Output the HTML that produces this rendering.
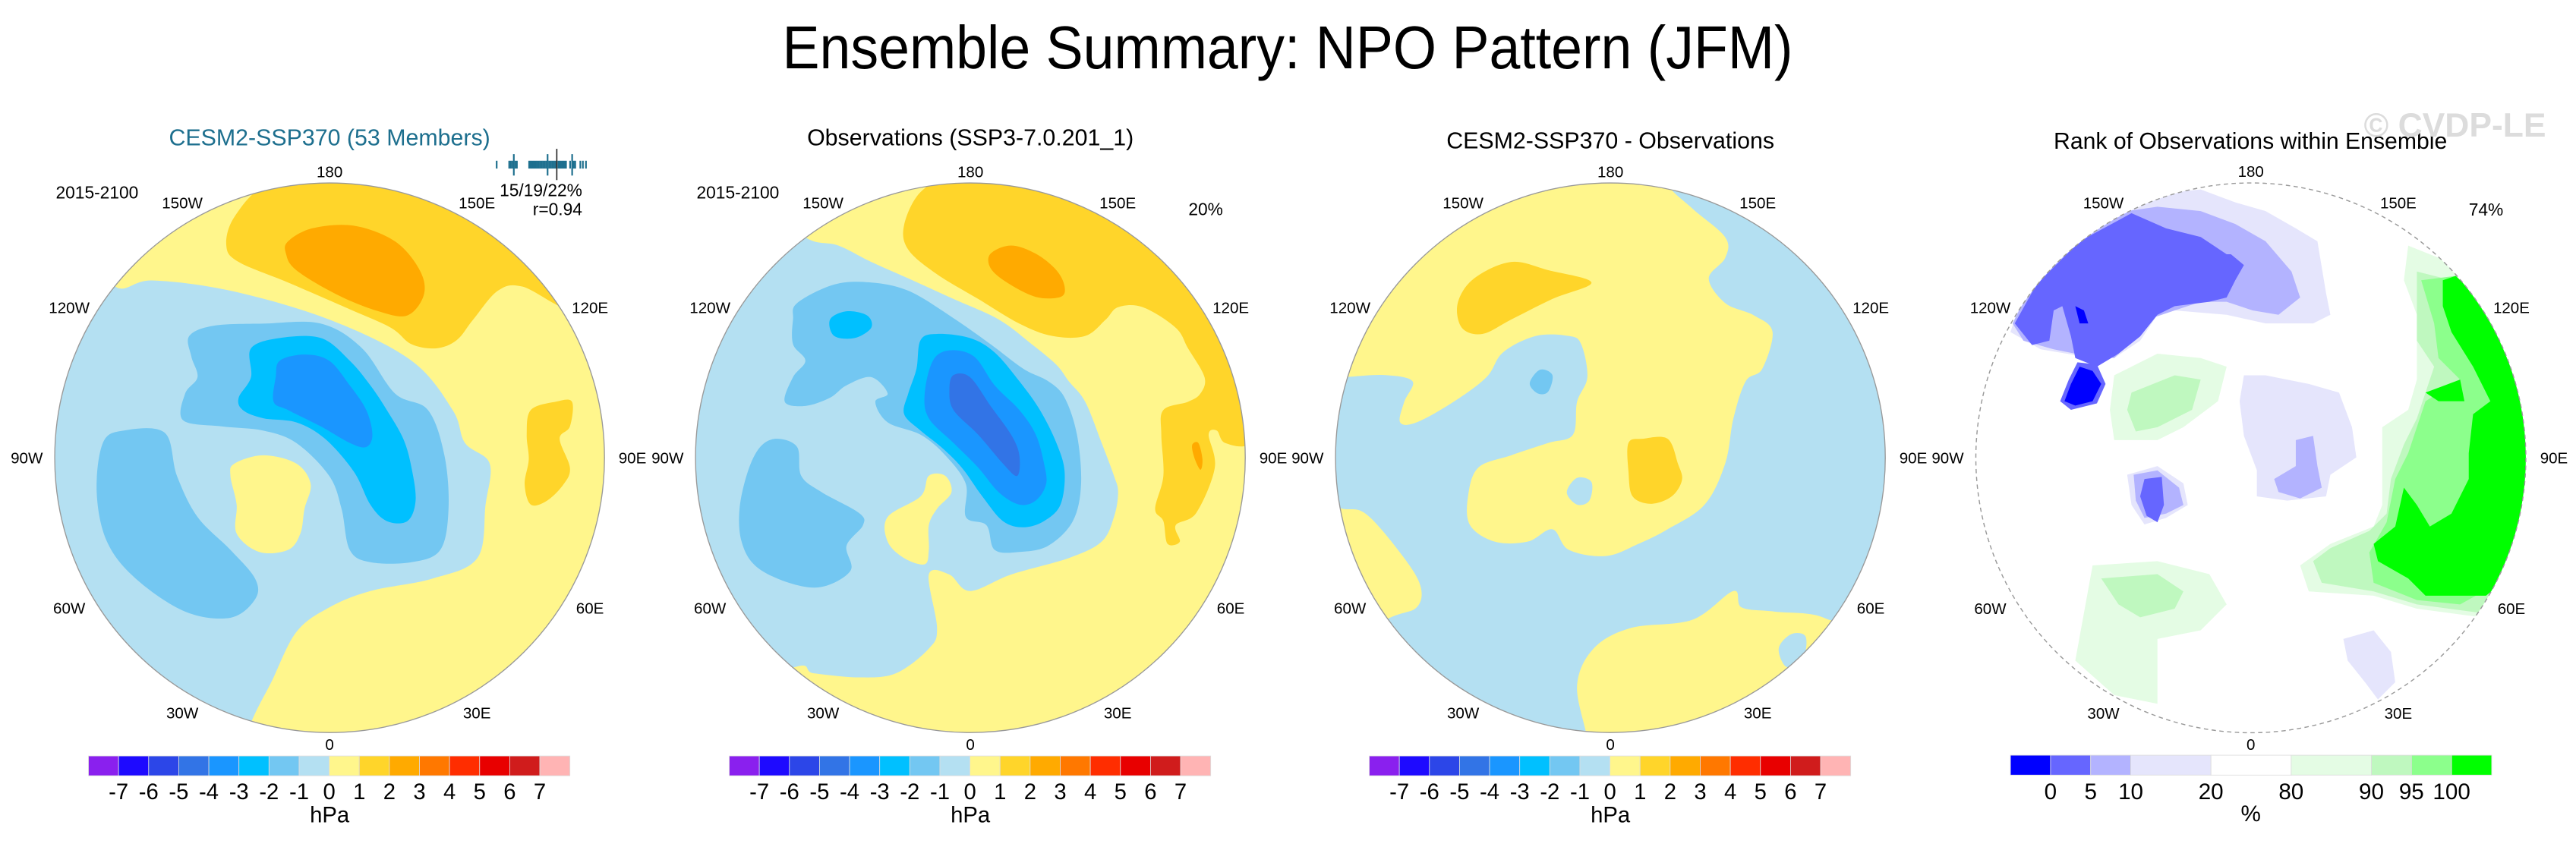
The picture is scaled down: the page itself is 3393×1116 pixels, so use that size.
<!DOCTYPE html>
<html><head><meta charset="utf-8"><title>Ensemble Summary: NPO Pattern (JFM)</title>
<style>
html,body{margin:0;padding:0;background:#fff;}
svg{display:block;font-family:"Liberation Sans",Arial,sans-serif;}
</style></head>
<body>
<svg id="fig" xmlns="http://www.w3.org/2000/svg" width="3393" height="1116" viewBox="0 0 3393 1116">
<rect x="0" y="0" width="3393" height="1116" fill="#fff"/>
<text x="1696" y="90" font-size="80" text-anchor="middle" textLength="1331" lengthAdjust="spacingAndGlyphs">Ensemble Summary: NPO Pattern (JFM)</text>
<defs>
<clipPath id="clipA"><circle cx="801" cy="836" r="668"/></clipPath>
<clipPath id="clipB"><circle cx="816" cy="831" r="636"/></clipPath>
</defs>
<g id="p1" transform="translate(0,150) scale(0.542)"></g>
<g id="p2" transform="translate(844,150) scale(0.542)"></g>
<g id="p3" transform="translate(1687,150) scale(0.542)"></g>
<g id="p4" transform="translate(2500,130) scale(0.5695)"></g>
</svg>
<script>
// ---- colorbar data ----
var hpaLevels = [-7,-6,-5,-4,-3,-2,-1,0,1,2,3,4,5,6,7];
var hpaColors = ["#8a20ee","#1e0aff","#2c46e8","#3274e6","#1a96ff","#00c0ff","#73c7f2","#b4e0f2","#fff68c","#ffd52a","#ffaa00","#ff7800","#ff2d00","#e80000","#d01c1c","#ffb4b4"];
var rankLevels = [0,5,10,20,80,90,95,100];
var rankColors = ["#0000ff","#6666ff","#b3b3ff","#e5e5fc","#ffffff","#e4fce4","#bff8bf","#8cff8c","#00ff00"];
var rankWidths = [1,1,1,2,2,2,1,1,1];
// ensemble member pattern-correlation ranks (panel 1 strip)
var memberValues = [0,49,55,61,67,73,79,127,133,139,145,151,157,163,169,175,181,187,193,199,205,211,217,223,229,241,247,253,259,265,271,287,295,301,307,327,337,349];
var memberLong = [67,199,295];
var obsMember = 235;
// contour fields (level -> polygon in map frame)
var cesmField = [
 {lev:-1, pts:[[280,420],[370,405],[560,430],[800,500],[1000,600],[1100,720],[1130,800],[1190,850],[1180,950],[1160,1080],[1050,1130],[900,1160],[800,1200],[720,1260],[660,1380],[610,1480],[560,1620],[40,1600],[20,300],[200,300]]},
 {lev:0, pts:[[570,850],[640,830],[720,850],[755,900],[740,960],[730,1020],[700,1060],[630,1065],[575,1020],[575,950],[560,880]]},
 {lev:-2, pts:[[250,800],[300,770],[400,775],[430,880],[480,980],[560,1060],[620,1130],[620,1180],[560,1225],[450,1210],[330,1130],[260,1040],[235,920]]},
 {lev:-2, pts:[[460,540],[520,515],[640,510],[780,510],[880,570],[960,680],[1040,720],[1080,830],[1090,960],[1070,1060],[1000,1090],[900,1090],[850,1060],[830,960],[800,880],[720,800],[640,770],[540,760],[445,745],[450,680],[480,640],[465,590]]},
 {lev:-3, pts:[[610,570],[680,545],[780,545],[850,600],[900,660],[940,720],[980,790],[1000,860],[1010,940],[990,990],[940,990],[900,950],[860,870],[790,790],[720,750],[640,740],[590,720],[580,690],[610,640]]},
 {lev:-4, pts:[[680,600],[740,585],[800,600],[850,660],[890,720],[905,780],[890,810],[850,800],[780,760],[700,720],[665,700],[670,640]]},
 {lev:1, pts:[[550,320],[570,250],[650,170],[800,140],[1000,140],[1200,190],[1320,280],[1390,470],[1270,420],[1210,430],[1150,500],[1110,550],[1060,570],[1000,560],[950,520],[850,475],[700,410],[580,360]]},
 {lev:2, pts:[[700,310],[760,278],[860,272],[960,310],[1020,380],[1030,440],[990,490],[920,480],[820,440],[720,380],[695,340]]},
 {lev:1, pts:[[1290,720],[1350,700],[1390,700],[1385,760],[1360,790],[1385,860],[1370,900],[1330,940],[1290,950],[1275,900],[1285,840],[1280,780]]}
];
var obsField = [
 {lev:-1, pts:[[400,300],[480,320],[560,360],[650,400],[760,450],[870,500],[950,560],[1010,610],[1040,650],[1080,700],[1120,800],[1150,880],[1160,920],[1150,980],[1120,1040],[1040,1080],[900,1120],[800,1160],[750,1120],[700,1120],[720,1250],[700,1300],[620,1360],[530,1370],[420,1360],[360,1350],[40,1500],[20,300],[300,200]]},
 {lev:0, pts:[[600,980],[680,930],[700,880],[740,880],[755,920],[720,960],[700,1000],[700,1060],[690,1095],[640,1080],[600,1040]]},
 {lev:-2, pts:[[290,810],[330,790],[380,810],[390,880],[440,920],[530,970],[540,1000],[500,1050],[510,1110],[440,1150],[360,1140],[280,1100],[245,1040],[240,960],[260,870]]},
 {lev:-2, pts:[[380,460],[470,415],[560,410],[650,430],[750,490],[850,560],[930,620],[990,650],[1030,690],[1060,780],[1070,900],[1050,990],[990,1050],[920,1065],[860,1060],[840,1000],[790,980],[790,900],[740,830],[680,780],[600,750],[570,700],[600,680],[560,640],[500,660],[460,690],[400,710],[350,700],[370,640],[400,600],[370,560],[370,500]]},
 {lev:-3, pts:[[460,500],[500,480],[550,490],[560,520],[520,545],[470,540]]},
 {lev:-3, pts:[[680,550],[720,535],[800,545],[860,580],[920,650],[970,720],[1010,800],[1030,870],[1020,950],[980,990],[930,1005],[880,990],[830,930],[780,860],[730,810],[680,770],[640,730],[650,680],[670,620]]},
 {lev:-4, pts:[[710,600],[750,575],[810,590],[860,660],[920,720],[960,780],[980,850],[985,900],[960,940],[920,950],[870,920],[820,860],[760,800],[700,740],[690,680]]},
 {lev:-5, pts:[[760,635],[800,640],[850,710],[900,780],[920,830],[915,880],[880,850],[820,780],[760,720],[750,670]]},
 {lev:1, pts:[[640,270],[680,190],[760,150],[900,145],[1100,200],[1300,290],[1390,420],[1450,550],[1490,700],[1480,800],[1420,800],[1400,770],[1380,780],[1395,860],[1350,970],[1300,1000],[1310,1040],[1280,1045],[1270,990],[1250,960],[1270,880],[1265,780],[1270,720],[1330,700],[1360,680],[1370,640],[1330,570],[1300,520],[1220,470],[1160,470],[1130,500],[1080,540],[1000,540],[920,510],[820,450],[720,390],[650,330]]},
 {lev:2, pts:[[850,340],[900,320],[960,340],[1010,380],[1030,420],[1020,445],[960,445],[890,410],[850,375]]},
 {lev:2, pts:[[1340,805],[1355,800],[1365,840],[1360,865],[1345,835]]}
];
var diffField = [
 {lev:0, pts:[[150,640],[250,635],[320,650],[300,700],[290,750],[330,750],[420,700],[500,640],[540,580],[620,540],[700,540],[730,560],[745,640],[720,700],[710,780],[650,800],[560,830],[480,860],[455,930],[460,1000],[520,1040],[600,1040],[660,1010],[700,1060],[790,1075],[870,1045],[940,1010],[1030,950],[1080,850],[1100,740],[1130,650],[1170,620],[1195,530],[1150,490],[1080,460],[1040,400],[1080,350],[1080,300],[1000,230],[940,170],[940,100],[100,100],[60,640]]},
 {lev:-1, pts:[[695,920],[720,885],[755,895],[750,940],[720,950]]},
 {lev:-2, pts:[[605,655],[630,622],[660,635],[650,675],[625,680]]},
 {lev:1, pts:[[430,460],[470,400],[560,360],[650,380],[755,410],[660,450],[560,500],[490,535],[440,520]]},
 {lev:1, pts:[[845,800],[880,790],[940,790],[965,850],[975,890],[950,930],[900,948],[855,930],[845,870]]},
 {lev:0, pts:[[150,960],[210,975],[300,1080],[340,1150],[330,1200],[265,1225],[100,1300],[60,950]]},
 {lev:0, pts:[[745,1520],[720,1390],[760,1300],[850,1250],[1000,1230],[1100,1160],[1120,1200],[1200,1210],[1320,1225],[1400,1300],[1300,1600],[750,1600]]},
 {lev:-1, pts:[[1210,1300],[1240,1265],[1275,1270],[1270,1320],[1230,1345]]}
];
var rankField = [
 {cat:3, pts:[[520,270],[600,220],[700,210],[780,240],[850,260],[920,300],[970,330],[990,450],[1000,500],[960,520],[850,520],[760,500],[640,490],[600,500],[560,560],[500,600],[450,600],[330,580],[260,540],[280,480],[350,390],[430,320]]},
 {cat:2, pts:[[530,260],[600,250],[700,260],[780,290],[850,330],[910,400],[930,460],[880,500],[820,490],[760,470],[700,470],[640,490],[580,510],[540,560],[500,600],[450,590],[410,590],[360,580],[290,560],[265,520],[300,450],[400,340]]},
 {cat:1, pts:[[540,265],[620,300],[700,320],[760,360],[770,360],[800,385],[780,420],[760,460],[720,470],[640,480],[600,500],[560,550],[510,590],[460,620],[410,600],[400,550],[380,480],[360,490],[350,560],[310,570],[270,520],[320,430],[420,330]]},
 {cat:0, pts:[[410,480],[430,490],[440,520],[420,520]]},
 {cat:1, pts:[[415,610],[460,615],[480,660],[460,705],[400,720],[375,700],[395,650]]},
 {cat:0, pts:[[420,620],[450,630],[470,660],[450,700],[410,710],[385,700],[400,660]]},
 {cat:3, pts:[[800,640],[850,640],[950,660],[1020,680],[1050,760],[1060,830],[1000,870],[990,920],[900,930],[830,920],[830,860],[800,780],[790,700]]},
 {cat:2, pts:[[920,790],[960,780],[970,850],[980,900],[930,925],[880,910],[870,880],[920,850]]},
 {cat:3, pts:[[530,870],[600,850],[660,890],[670,940],[620,970],[570,985],[540,940]]},
 {cat:2, pts:[[545,870],[600,860],[650,900],[660,940],[620,960],[570,970],[550,930]]},
 {cat:1, pts:[[570,880],[610,875],[615,940],[600,980],[575,965],[560,920]]},
 {cat:3, pts:[[1030,1250],[1100,1230],[1140,1280],[1150,1350],[1110,1390],[1080,1350],[1040,1300]]},
 {cat:5, pts:[[1180,340],[1280,380],[1380,500],[1460,700],[1460,900],[1420,1100],[1350,1200],[1200,1180],[1100,1150],[950,1140],[930,1080],[1000,1030],[1100,990],[1120,940],[1120,820],[1120,760],[1180,720],[1200,650],[1200,500],[1170,420]]},
 {cat:6, pts:[[1200,400],[1280,420],[1380,520],[1440,700],[1450,900],[1400,1100],[1350,1190],[1200,1170],[1100,1140],[980,1120],[960,1070],[1000,1040],[1090,1000],[1130,960],[1140,880],[1170,800],[1200,740],[1220,680],[1240,620],[1200,560],[1200,480]]},
 {cat:7, pts:[[1210,420],[1290,410],[1370,540],[1420,640],[1440,760],[1440,980],[1390,1120],[1300,1170],[1200,1160],[1100,1120],[1090,1050],[1130,980],[1150,880],[1180,820],[1220,700],[1300,650],[1250,600],[1240,520]]},
 {cat:8, pts:[[1260,420],[1290,410],[1350,470],[1400,580],[1450,700],[1460,880],[1420,1100],[1360,1150],[1220,1150],[1180,1110],[1110,1070],[1100,1030],[1150,990],[1170,900],[1200,940],[1230,990],[1280,960],[1320,880],[1320,820],[1330,730],[1370,700],[1330,620],[1280,540],[1260,480]]},
 {cat:8, pts:[[1220,680],[1300,650],[1310,700],[1250,700]]},
 {cat:5, pts:[[500,640],[600,590],[700,600],[760,620],[740,700],[660,760],[600,790],[500,790],[490,720]]},
 {cat:6, pts:[[540,680],[640,640],[700,650],[680,720],[600,760],[550,770],[530,720]]},
 {cat:5, pts:[[410,1300],[450,1080],[600,1070],[720,1100],[760,1170],[700,1230],[600,1250],[600,1400],[500,1380]]},
 {cat:6, pts:[[470,1110],[600,1100],[660,1140],[640,1180],[560,1200],[510,1170]]}
];
var lonLabels = ["180","150W","150E","120W","120E","90W","90E","60W","60E","30W","30E","0"];
var lonAngles = [180,-150,150,-120,120,-90,90,-60,60,-30,30,0];

var NS = "http://www.w3.org/2000/svg";
function mk(tag, attrs, parent){var e=document.createElementNS(NS,tag);for(var k in attrs)e.setAttribute(k,attrs[k]);if(parent)parent.appendChild(e);return e;}
function smoothPath(p){
  var n=p.length, d="M"+p[0][0]+","+p[0][1];
  for(var i=0;i<n;i++){
    var p0=p[(i-1+n)%n],p1=p[i],p2=p[(i+1)%n],p3=p[(i+2)%n];
    var c1x=p1[0]+(p2[0]-p0[0])/6,c1y=p1[1]+(p2[1]-p0[1])/6,c2x=p2[0]-(p3[0]-p1[0])/6,c2y=p2[1]-(p3[1]-p1[1])/6;
    d+="C"+c1x.toFixed(1)+","+c1y.toFixed(1)+" "+c2x.toFixed(1)+","+c2y.toFixed(1)+" "+p2[0]+","+p2[1];
  }
  return d+"Z";
}
function hpaColor(lev){ var i=hpaLevels.indexOf(lev); return hpaColors[i+1]; }
function polarLabels(g, cx, cy, r, off, hw, fs){
  for(var i=0;i<lonLabels.length;i++){
    var a=lonAngles[i]*Math.PI/180;
    var rr=r+off+Math.abs(Math.sin(a))*hw;
    var x=cx+rr*Math.sin(a), y=cy+rr*Math.cos(a);
    var t=mk("text",{x:x.toFixed(1),y:(y+fs*0.36).toFixed(1),"font-size":fs,"text-anchor":"middle"},g);
    t.textContent=lonLabels[i];
    
    
  }
}
function hpaMap(gid, field, bg){
  var g=document.getElementById(gid);
  var m=mk("g",{"clip-path":"url(#clipA)"},g);
  
  
  mk("circle",{cx:801,cy:836,r:668,fill:hpaColor(bg)},m);
  field.forEach(function(f){
    var p=mk("path",{d:smoothPath(f.pts),fill:hpaColor(f.lev)},m);
    
    
  });
  var b=mk("circle",{cx:801,cy:836,r:668,fill:"none",stroke:"#999","stroke-width":2.5},g);
  
  
  polarLabels(g,801,836,668,28,40,38);
  var x0=215,w=1170,cw=w/hpaColors.length;
  var cb=mk("g",{},g);
  
  
  hpaColors.forEach(function(c,i){
    var r=mk("rect",{x:x0+i*cw,y:1561,width:cw,height:48,fill:c,stroke:"#ddd","stroke-width":1.5},cb);
    
    
  });
  hpaLevels.forEach(function(l,i){
    var t=mk("text",{x:x0+(i+1)*cw,y:1666,"font-size":54,"text-anchor":"middle"},cb);
    t.textContent=l;
    
    
  });
  var u=mk("text",{x:801,y:1722,"font-size":54,"text-anchor":"middle"},cb);
  u.textContent="hPa";
  
  
  return g;
}
function addText(g,x,y,fs,txt,name,anchor,fill){
  var t=mk("text",{x:x,y:y,"font-size":fs,"text-anchor":anchor||"middle",fill:fill||"#000"},g);
  t.textContent=txt;
  
  
  return t;
}

var g1=hpaMap("p1",cesmField,0);
var g2=hpaMap("p2",obsField,0);
var g3=hpaMap("p3",diffField,-1);

addText(g1,801,77,56,"CESM2-SSP370 (53 Members)","panel-title","middle","#1d6f8e");
addText(g1,236,206,42,"2015-2100","period-label","middle");
addText(g1,1415,200,42,"15/19/22%","pattern-stats","end");
addText(g1,1415,246,42,"r=0.94","pattern-correlation","end");
addText(g2,801,77,56,"Observations (SSP3-7.0.201_1)","panel-title","middle");
addText(g2,236,206,42,"2015-2100","period-label","middle");
addText(g2,1415,246,42,"20%","pattern-percent","end");
addText(g3,801,84,56,"CESM2-SSP370 - Observations","panel-title","middle");

(function(){
  var s=mk("g",{},g1);
  
  
  var x0=1207, k=217/349;
  memberValues.forEach(function(v,i){
    var long=memberLong.indexOf(v)>=0;
    var l=mk("line",{x1:x0+v*k,x2:x0+v*k,y1:long?98:114,y2:long?150:133,stroke:"#1d6f8e","stroke-width":4},s);
    
    
  });
  var o=mk("line",{x1:x0+obsMember*k,x2:x0+obsMember*k,y1:85,y2:161,stroke:"#222","stroke-width":3},s);
  
  
})();

(function(){
  var g=document.getElementById("p4");
  var m=mk("g",{"clip-path":"url(#clipB)"},g);
  
  
  mk("circle",{cx:816,cy:831,r:636,fill:"#fff"},m);
  rankField.forEach(function(f){
    var pts=f.pts.map(function(p){return p[0]+","+p[1];}).join(" ");
    var p=mk("polygon",{points:pts,fill:rankColors[f.cat]},m);
    
    
  });
  var b=mk("circle",{cx:816,cy:831,r:636,fill:"none",stroke:"#999","stroke-width":2.5,"stroke-dasharray":"10 8"},g);
  
  
  polarLabels(g,816,831,636,27,38,36);
  addText(g,815,116,53,"Rank of Observations within Ensemble","panel-title","middle");
  var wm=addText(g,1288,88,78,"\u00a9 CVDP-LE","watermark","middle","#dcdcdc");
  wm.setAttribute("font-weight","bold");
  addText(g,1400,270,40,"74%","rank-percent","end");
  var cb=mk("g",{},g);
  
  
  var x0=260,unit=(1373-260)/12,x=x0,bounds=[];
  rankColors.forEach(function(c,i){
    var w=rankWidths[i]*unit;
    var r=mk("rect",{x:x,y:1519,width:w,height:46,fill:c,stroke:"#ddd","stroke-width":1.5},cb);
    
    
    x+=w; bounds.push(x);
  });
  rankLevels.forEach(function(l,i){
    var t=mk("text",{x:bounds[i],y:1621,"font-size":52,"text-anchor":"middle"},cb);
    t.textContent=l;
    
    
  });
  addText(cb,816,1672,52,"%","colorbar-units","middle");
})();
</script>
</body></html>
